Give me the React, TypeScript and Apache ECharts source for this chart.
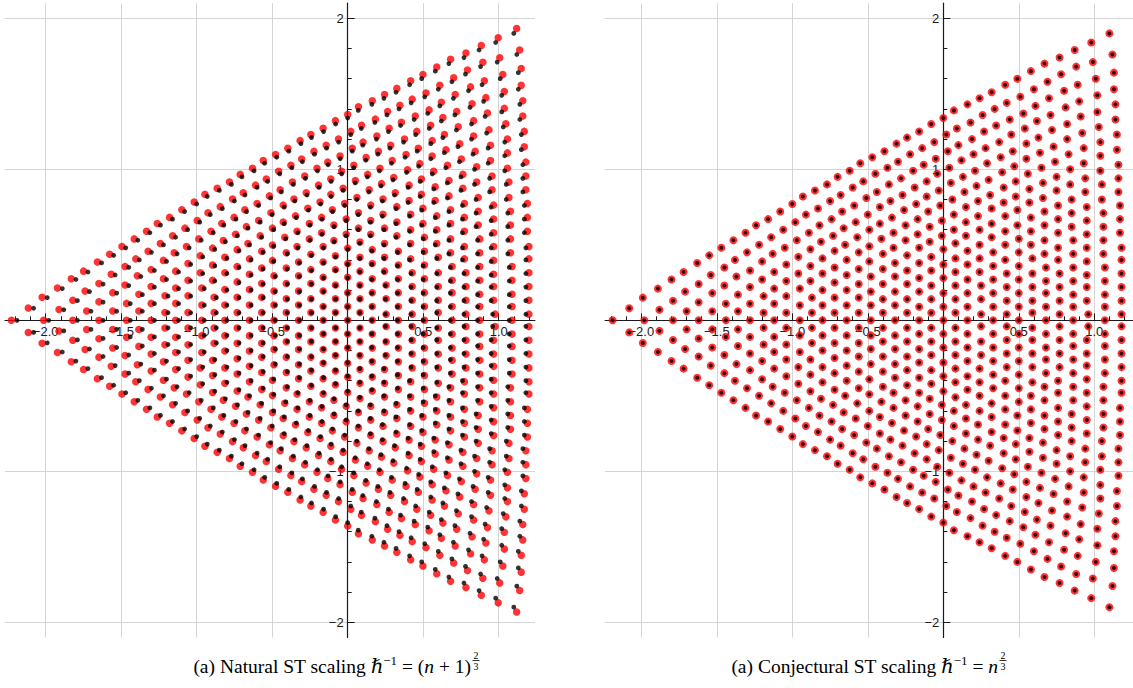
import React, { useEffect, useRef } from "react";
import * as echarts from "echarts";

// Points (upper half, y >= 0), one string per lattice column, "x,y" pairs.
const upperRoots: string[] = [
  "-2.19,0",
  "-2.08,0.08",
  "-1.99,0.15 -1.98,0",
  "-1.89,0.21 -1.88,0.07",
  "-1.80,0.27 -1.79,0.13 -1.79,0",
  "-1.72,0.32 -1.71,0.19 -1.70,0.06",
  "-1.63,0.38 -1.62,0.24 -1.62,0.12 -1.62,0",
  "-1.55,0.43 -1.54,0.30 -1.53,0.18 -1.53,0.06",
  "-1.47,0.48 -1.45,0.35 -1.45,0.23 -1.44,0.11 -1.44,0",
  "-1.39,0.53 -1.38,0.40 -1.37,0.29 -1.36,0.17 -1.36,0.06",
  "-1.31,0.58 -1.30,0.45 -1.28,0.33 -1.28,0.22 -1.28,0.11 -1.28,0",
  "-1.24,0.63 -1.22,0.50 -1.20,0.39 -1.20,0.27 -1.19,0.16 -1.19,0.05",
  "-1.16,0.67 -1.14,0.55 -1.13,0.44 -1.12,0.32 -1.12,0.21 -1.12,0.11 -1.12,0",
  "-1.08,0.72 -1.06,0.60 -1.05,0.48 -1.04,0.37 -1.04,0.26 -1.04,0.16 -1.04,0.05",
  "-1.00,0.77 -0.98,0.65 -0.97,0.53 -0.96,0.42 -0.96,0.31 -0.95,0.21 -0.95,0.10 -0.95,0",
  "-0.93,0.82 -0.91,0.70 -0.89,0.58 -0.88,0.47 -0.88,0.36 -0.88,0.26 -0.87,0.15 -0.87,0.05",
  "-0.85,0.86 -0.83,0.74 -0.82,0.63 -0.81,0.52 -0.80,0.41 -0.80,0.31 -0.80,0.20 -0.80,0.10 -0.80,0",
  "-0.77,0.90 -0.75,0.79 -0.74,0.67 -0.73,0.56 -0.72,0.46 -0.72,0.35 -0.72,0.25 -0.72,0.15 -0.72,0.05",
  "-0.70,0.95 -0.68,0.83 -0.67,0.72 -0.66,0.61 -0.65,0.50 -0.64,0.40 -0.64,0.30 -0.64,0.20 -0.64,0.10 -0.64,0",
  "-0.62,0.99 -0.60,0.88 -0.59,0.76 -0.58,0.65 -0.57,0.55 -0.56,0.45 -0.56,0.34 -0.56,0.24 -0.56,0.15 -0.56,0.05",
  "-0.55,1.04 -0.53,0.92 -0.51,0.81 -0.50,0.70 -0.49,0.60 -0.49,0.49 -0.49,0.39 -0.48,0.29 -0.48,0.19 -0.48,0.10 -0.48,0",
  "-0.47,1.08 -0.45,0.97 -0.44,0.85 -0.42,0.75 -0.42,0.64 -0.41,0.54 -0.40,0.44 -0.40,0.34 -0.40,0.24 -0.40,0.14 -0.40,0.05",
  "-0.39,1.12 -0.37,1.01 -0.36,0.90 -0.35,0.79 -0.34,0.68 -0.33,0.58 -0.33,0.48 -0.32,0.38 -0.32,0.29 -0.32,0.19 -0.32,0.10 -0.32,0",
  "-0.31,1.17 -0.30,1.05 -0.28,0.94 -0.27,0.83 -0.26,0.73 -0.25,0.63 -0.25,0.53 -0.24,0.43 -0.24,0.33 -0.24,0.24 -0.24,0.14 -0.24,0.05",
  "-0.24,1.21 -0.22,1.10 -0.20,0.99 -0.19,0.88 -0.18,0.77 -0.17,0.67 -0.17,0.57 -0.16,0.48 -0.16,0.38 -0.16,0.28 -0.16,0.19 -0.16,0.09 -0.16,0",
  "-0.16,1.25 -0.14,1.14 -0.13,1.03 -0.11,0.92 -0.11,0.82 -0.10,0.72 -0.09,0.62 -0.09,0.52 -0.08,0.42 -0.08,0.33 -0.08,0.23 -0.08,0.14 -0.08,0.05",
  "-0.08,1.30 -0.06,1.18 -0.05,1.07 -0.04,0.97 -0.03,0.86 -0.02,0.76 -0.01,0.66 -0.01,0.56 0,0.47 0,0.37 0,0.28 0,0.18 0,0.09 0,0",
  "0,1.34 0.02,1.23 0.03,1.12 0.04,1.01 0.05,0.91 0.06,0.80 0.07,0.70 0.07,0.60 0.08,0.51 0.08,0.41 0.08,0.32 0.08,0.23 0.08,0.14 0.08,0.05",
  "0.07,1.39 0.09,1.27 0.10,1.16 0.12,1.06 0.13,0.95 0.14,0.85 0.15,0.75 0.15,0.65 0.15,0.56 0.16,0.46 0.16,0.37 0.16,0.27 0.16,0.18 0.16,0.09 0.16,0",
  "0.16,1.43 0.18,1.31 0.19,1.20 0.20,1.10 0.21,0.99 0.22,0.89 0.23,0.79 0.23,0.69 0.24,0.60 0.24,0.50 0.24,0.41 0.24,0.32 0.25,0.23 0.25,0.14 0.25,0.04",
  "0.24,1.47 0.26,1.36 0.27,1.25 0.28,1.14 0.29,1.04 0.30,0.93 0.31,0.83 0.32,0.74 0.32,0.64 0.32,0.55 0.33,0.45 0.33,0.36 0.33,0.27 0.33,0.18 0.33,0.09 0.33,0",
  "0.32,1.51 0.34,1.40 0.35,1.29 0.37,1.18 0.38,1.08 0.39,0.98 0.40,0.88 0.40,0.78 0.41,0.69 0.41,0.59 0.41,0.50 0.41,0.40 0.42,0.31 0.42,0.22 0.42,0.13 0.42,0.04",
  "0.41,1.56 0.42,1.44 0.44,1.33 0.45,1.23 0.46,1.12 0.47,1.02 0.48,0.92 0.48,0.82 0.49,0.73 0.49,0.63 0.50,0.54 0.50,0.45 0.50,0.36 0.50,0.27 0.50,0.18 0.50,0.09 0.50,0",
  "0.49,1.60 0.51,1.48 0.53,1.37 0.54,1.27 0.55,1.17 0.55,1.07 0.56,0.97 0.57,0.87 0.57,0.78 0.58,0.68 0.58,0.59 0.58,0.50 0.59,0.41 0.59,0.31 0.59,0.22 0.59,0.13 0.59,0.05",
  "0.58,1.65 0.60,1.53 0.61,1.42 0.62,1.32 0.63,1.21 0.64,1.11 0.65,1.01 0.66,0.91 0.66,0.81 0.67,0.72 0.67,0.63 0.67,0.53 0.67,0.44 0.68,0.35 0.68,0.26 0.68,0.18 0.68,0.09 0.68,0",
  "0.67,1.70 0.69,1.58 0.70,1.47 0.71,1.36 0.72,1.26 0.73,1.15 0.74,1.05 0.75,0.95 0.75,0.86 0.76,0.76 0.76,0.67 0.76,0.58 0.76,0.48 0.76,0.40 0.77,0.31 0.77,0.22 0.77,0.13 0.77,0.04",
  "0.77,1.74 0.78,1.63 0.80,1.52 0.81,1.41 0.82,1.30 0.82,1.20 0.83,1.10 0.84,1.00 0.84,0.90 0.85,0.80 0.85,0.71 0.85,0.62 0.86,0.53 0.86,0.44 0.86,0.35 0.86,0.26 0.86,0.17 0.86,0.09 0.86,0",
  "0.87,1.79 0.88,1.68 0.89,1.56 0.90,1.45 0.91,1.35 0.92,1.24 0.93,1.14 0.93,1.04 0.94,0.94 0.94,0.85 0.95,0.75 0.95,0.66 0.95,0.57 0.95,0.48 0.95,0.39 0.95,0.30 0.95,0.22 0.95,0.13 0.96,0.04",
  "0.98,1.84 0.99,1.71 1.01,1.60 1.02,1.49 1.02,1.38 1.03,1.28 1.04,1.18 1.04,1.09 1.04,0.99 1.05,0.90 1.05,0.80 1.06,0.71 1.06,0.62 1.06,0.53 1.06,0.44 1.07,0.35 1.07,0.26 1.07,0.17 1.07,0.09 1.07,0",
  "1.10,1.90 1.12,1.76 1.13,1.64 1.13,1.53 1.14,1.43 1.14,1.33 1.15,1.23 1.15,1.13 1.16,1.03 1.16,0.94 1.16,0.85 1.17,0.76 1.17,0.67 1.17,0.58 1.18,0.48 1.18,0.40 1.18,0.31 1.18,0.22 1.18,0.13 1.18,0.04",
];

// Lower half (y < 0), same column order.
const lowerRoots: string[] = [
  "-2.08,-0.08",
  "-1.99,-0.15",
  "-1.89,-0.21 -1.88,-0.07",
  "-1.80,-0.27 -1.79,-0.13",
  "-1.72,-0.32 -1.71,-0.19 -1.70,-0.06",
  "-1.63,-0.38 -1.62,-0.24 -1.62,-0.12",
  "-1.55,-0.43 -1.54,-0.30 -1.53,-0.18 -1.53,-0.06",
  "-1.47,-0.48 -1.45,-0.35 -1.45,-0.23 -1.44,-0.11",
  "-1.39,-0.53 -1.38,-0.40 -1.37,-0.29 -1.36,-0.17 -1.36,-0.06",
  "-1.31,-0.58 -1.30,-0.45 -1.28,-0.33 -1.28,-0.22 -1.28,-0.11",
  "-1.24,-0.63 -1.22,-0.50 -1.20,-0.39 -1.20,-0.27 -1.19,-0.16 -1.19,-0.05",
  "-1.16,-0.67 -1.14,-0.55 -1.13,-0.44 -1.12,-0.32 -1.12,-0.21 -1.12,-0.11",
  "-1.08,-0.72 -1.06,-0.60 -1.05,-0.48 -1.04,-0.37 -1.04,-0.26 -1.04,-0.16 -1.04,-0.05",
  "-1.00,-0.77 -0.98,-0.65 -0.97,-0.53 -0.96,-0.42 -0.96,-0.31 -0.95,-0.21 -0.95,-0.10",
  "-0.93,-0.82 -0.91,-0.70 -0.89,-0.58 -0.88,-0.47 -0.88,-0.36 -0.88,-0.26 -0.87,-0.15 -0.87,-0.05",
  "-0.85,-0.86 -0.83,-0.74 -0.82,-0.63 -0.81,-0.52 -0.80,-0.41 -0.80,-0.31 -0.80,-0.20 -0.80,-0.10",
  "-0.77,-0.90 -0.75,-0.79 -0.74,-0.67 -0.73,-0.56 -0.72,-0.46 -0.72,-0.35 -0.72,-0.25 -0.72,-0.15 -0.72,-0.05",
  "-0.70,-0.95 -0.68,-0.83 -0.67,-0.72 -0.66,-0.61 -0.65,-0.50 -0.64,-0.40 -0.64,-0.30 -0.64,-0.20 -0.64,-0.10",
  "-0.62,-0.99 -0.60,-0.88 -0.59,-0.76 -0.58,-0.65 -0.57,-0.55 -0.56,-0.45 -0.56,-0.34 -0.56,-0.24 -0.56,-0.15 -0.56,-0.05",
  "-0.55,-1.04 -0.53,-0.92 -0.51,-0.81 -0.50,-0.70 -0.49,-0.60 -0.49,-0.49 -0.49,-0.39 -0.48,-0.29 -0.48,-0.19 -0.48,-0.10",
  "-0.47,-1.08 -0.45,-0.97 -0.44,-0.85 -0.42,-0.75 -0.42,-0.64 -0.41,-0.54 -0.40,-0.44 -0.40,-0.34 -0.40,-0.24 -0.40,-0.14 -0.40,-0.05",
  "-0.39,-1.12 -0.37,-1.01 -0.36,-0.90 -0.35,-0.79 -0.34,-0.68 -0.33,-0.58 -0.33,-0.48 -0.32,-0.38 -0.32,-0.29 -0.32,-0.19 -0.32,-0.10",
  "-0.31,-1.17 -0.30,-1.05 -0.28,-0.94 -0.27,-0.83 -0.26,-0.73 -0.25,-0.63 -0.25,-0.53 -0.24,-0.43 -0.24,-0.33 -0.24,-0.24 -0.24,-0.14 -0.24,-0.05",
  "-0.24,-1.21 -0.22,-1.10 -0.20,-0.99 -0.19,-0.88 -0.18,-0.77 -0.17,-0.67 -0.17,-0.57 -0.16,-0.48 -0.16,-0.38 -0.16,-0.28 -0.16,-0.19 -0.16,-0.09",
  "-0.16,-1.25 -0.14,-1.14 -0.13,-1.03 -0.11,-0.92 -0.11,-0.82 -0.10,-0.72 -0.09,-0.62 -0.09,-0.52 -0.08,-0.42 -0.08,-0.33 -0.08,-0.23 -0.08,-0.14 -0.08,-0.05",
  "-0.08,-1.30 -0.06,-1.18 -0.05,-1.07 -0.04,-0.97 -0.03,-0.86 -0.02,-0.76 -0.01,-0.66 -0.01,-0.56 0,-0.47 0,-0.37 0,-0.28 0,-0.18 0,-0.09",
  "0,-1.34 0.02,-1.23 0.03,-1.12 0.04,-1.01 0.05,-0.91 0.06,-0.80 0.07,-0.70 0.07,-0.60 0.08,-0.51 0.08,-0.41 0.08,-0.32 0.08,-0.23 0.08,-0.14 0.08,-0.05",
  "0.07,-1.39 0.09,-1.27 0.10,-1.16 0.12,-1.06 0.13,-0.95 0.14,-0.85 0.15,-0.75 0.15,-0.65 0.15,-0.56 0.16,-0.46 0.16,-0.37 0.16,-0.27 0.16,-0.18 0.16,-0.09",
  "0.16,-1.43 0.18,-1.31 0.19,-1.20 0.20,-1.10 0.21,-0.99 0.22,-0.89 0.23,-0.79 0.23,-0.69 0.24,-0.60 0.24,-0.50 0.24,-0.41 0.24,-0.32 0.25,-0.23 0.25,-0.14 0.25,-0.04",
  "0.24,-1.47 0.26,-1.36 0.27,-1.25 0.28,-1.14 0.29,-1.04 0.30,-0.93 0.31,-0.83 0.32,-0.74 0.32,-0.64 0.32,-0.55 0.33,-0.45 0.33,-0.36 0.33,-0.27 0.33,-0.18 0.33,-0.09",
  "0.32,-1.51 0.34,-1.40 0.35,-1.29 0.37,-1.18 0.38,-1.08 0.39,-0.98 0.40,-0.88 0.40,-0.78 0.41,-0.69 0.41,-0.59 0.41,-0.50 0.41,-0.40 0.42,-0.31 0.42,-0.22 0.42,-0.13 0.42,-0.04",
  "0.41,-1.56 0.42,-1.44 0.44,-1.33 0.45,-1.23 0.46,-1.12 0.47,-1.02 0.48,-0.92 0.48,-0.82 0.49,-0.73 0.49,-0.63 0.50,-0.54 0.50,-0.45 0.50,-0.36 0.50,-0.27 0.50,-0.18 0.50,-0.09",
  "0.49,-1.60 0.51,-1.48 0.53,-1.37 0.54,-1.27 0.55,-1.17 0.55,-1.07 0.56,-0.97 0.57,-0.87 0.57,-0.78 0.58,-0.68 0.58,-0.59 0.58,-0.50 0.59,-0.41 0.59,-0.31 0.59,-0.22 0.59,-0.13 0.59,-0.05",
  "0.58,-1.65 0.60,-1.53 0.61,-1.42 0.62,-1.32 0.63,-1.21 0.64,-1.11 0.65,-1.01 0.66,-0.91 0.66,-0.81 0.67,-0.72 0.67,-0.63 0.67,-0.53 0.67,-0.44 0.68,-0.35 0.68,-0.26 0.68,-0.18 0.68,-0.09",
  "0.67,-1.70 0.69,-1.58 0.70,-1.47 0.71,-1.36 0.72,-1.26 0.73,-1.15 0.74,-1.05 0.75,-0.95 0.75,-0.86 0.76,-0.76 0.76,-0.67 0.76,-0.58 0.76,-0.48 0.76,-0.40 0.77,-0.31 0.77,-0.22 0.77,-0.13 0.77,-0.04",
  "0.77,-1.74 0.78,-1.63 0.80,-1.52 0.81,-1.41 0.82,-1.30 0.82,-1.20 0.83,-1.10 0.84,-1.00 0.84,-0.90 0.85,-0.80 0.85,-0.71 0.85,-0.62 0.86,-0.53 0.86,-0.44 0.86,-0.35 0.86,-0.26 0.86,-0.17 0.86,-0.09",
  "0.87,-1.79 0.88,-1.68 0.89,-1.56 0.90,-1.45 0.91,-1.35 0.92,-1.24 0.93,-1.14 0.93,-1.04 0.94,-0.94 0.94,-0.85 0.95,-0.75 0.95,-0.66 0.95,-0.57 0.95,-0.48 0.95,-0.39 0.95,-0.30 0.95,-0.22 0.95,-0.13 0.96,-0.04",
  "0.98,-1.84 0.99,-1.71 1.01,-1.60 1.02,-1.49 1.02,-1.38 1.03,-1.28 1.04,-1.18 1.04,-1.09 1.04,-0.99 1.05,-0.90 1.05,-0.80 1.06,-0.71 1.06,-0.62 1.06,-0.53 1.06,-0.44 1.07,-0.35 1.07,-0.26 1.07,-0.17 1.07,-0.09",
  "1.10,-1.90 1.12,-1.76 1.13,-1.64 1.13,-1.53 1.14,-1.43 1.14,-1.33 1.15,-1.23 1.15,-1.13 1.16,-1.03 1.16,-0.94 1.16,-0.85 1.17,-0.76 1.17,-0.67 1.17,-0.58 1.18,-0.48 1.18,-0.40 1.18,-0.31 1.18,-0.22 1.18,-0.13 1.18,-0.04",
];

// Red points of the left panel sit farther out than the black ones by this ratio.
const naturalScale = 1.017;

// Axis ticks and labels
const xMajorTicks = [-2, -1.5, -1, -0.5, 0, 0.5, 1];
const xLabelValues = [-2, -1.5, -1, -0.5, 0.5, 1];
const xMinorTicks = [-2.2, -2.1, -1.9, -1.8, -1.7, -1.6, -1.4, -1.3, -1.2, -1.1, -0.9, -0.8, -0.7, -0.6, -0.4, -0.3, -0.2, -0.1, 0.1, 0.2, 0.3, 0.4, 0.6, 0.7, 0.8, 0.9, 1.1, 1.2];
const yMajorTicks = [-2, -1, 0, 1, 2];
const yLabelValues = [-2, -1, 1, 2];
const yMinorTicks = [-1.8, -1.6, -1.4, -1.2, -0.8, -0.6, -0.4, -0.2, 0.2, 0.4, 0.6, 0.8, 1.2, 1.4, 1.6, 1.8];

const leftRange = { xMin: -2.27, xMax: 1.24 };
const rightRange = { xMin: -2.24, xMax: 1.26 };
const yRange = { min: -2.1, max: 2.1 };

const PX_PER_UNIT = 151;
const LEFT_ORIGIN_X = 347.7;
const RIGHT_ORIGIN_X = 943.3;
const ORIGIN_Y = 320.3;

function parsePoints(list: string[]): number[][] {
  const out: number[][] = [];
  list.forEach((s) =>
    s
      .trim()
      .split(/\s+/)
      .forEach((p) => {
        const [x, y] = p.split(",").map(Number);
        out.push([x, y]);
      })
  );
  return out;
}

const AXIS_COLOR = "#1a1a1a";
const GRID_COLOR = "#d4d4d4";
const LABEL_FONT = "'Liberation Sans', Arial, sans-serif";

function fmtX(v: number) {
  const s = Math.abs(v).toFixed(1);
  return v < 0 ? "\u2212" + s : s;
}
function fmtY(v: number) {
  const s = String(Math.abs(Math.round(v)));
  return v < 0 ? "\u2212" + s : s;
}

// x axes sit on y = 0: offset them up from the grid's bottom edge.
function makeXAxes(gridIndex: number, min: number, max: number) {
  const offset = -(0 - yRange.min) * PX_PER_UNIT;
  return [
    {
      type: "value",
      gridIndex,
      min,
      max,
      position: "bottom",
      offset,
      axisLine: { show: true, onZero: false, lineStyle: { color: AXIS_COLOR, width: 1.2 } },
      axisTick: { show: true, inside: true, length: 7, customValues: xMajorTicks, lineStyle: { color: AXIS_COLOR, width: 1 } },
      axisLabel: {
        show: true,
        customValues: xLabelValues,
        formatter: fmtX,
        color: AXIS_COLOR,
        fontSize: 13,
        fontFamily: LABEL_FONT,
        margin: 5,
      },
      splitLine: { show: true, lineStyle: { color: GRID_COLOR, width: 1 } },
    },
    {
      type: "value",
      gridIndex,
      min,
      max,
      position: "bottom",
      offset,
      axisLine: { show: false, onZero: false },
      axisTick: { show: true, inside: true, length: 4, customValues: xMinorTicks, lineStyle: { color: AXIS_COLOR, width: 1 } },
      axisLabel: { show: false },
      splitLine: { show: false },
    },
  ];
}

// y axes sit on x = 0: offset them right from the grid's left edge.
function makeYAxes(gridIndex: number, xMin: number) {
  const offset = -(0 - xMin) * PX_PER_UNIT;
  return [
    {
      type: "value",
      gridIndex,
      min: yRange.min,
      max: yRange.max,
      position: "left",
      offset,
      axisLine: { show: true, onZero: false, lineStyle: { color: AXIS_COLOR, width: 1.2 } },
      axisTick: { show: true, inside: true, length: 7, customValues: yMajorTicks, lineStyle: { color: AXIS_COLOR, width: 1 } },
      axisLabel: {
        show: true,
        customValues: yLabelValues,
        formatter: fmtY,
        color: AXIS_COLOR,
        fontSize: 13,
        fontFamily: LABEL_FONT,
        margin: 4,
      },
      splitLine: { show: true, lineStyle: { color: GRID_COLOR, width: 1 } },
    },
    {
      type: "value",
      gridIndex,
      min: yRange.min,
      max: yRange.max,
      position: "left",
      offset,
      axisLine: { show: false, onZero: false },
      axisTick: { show: true, inside: true, length: 4, customValues: yMinorTicks, lineStyle: { color: AXIS_COLOR, width: 1 } },
      axisLabel: { show: false },
      splitLine: { show: false },
    },
  ];
}

const SERIF = "'Liberation Serif', 'DejaVu Serif', serif";

function caption(rightX: number, y: number, main: string, fracX: number) {
  return [
    {
      type: "text",
      x: rightX,
      y,
      style: {
        text: main,
        align: "right",
        verticalAlign: "middle",
        rich: {
          t: { fontFamily: SERIF, fontSize: 19.5, color: "#000", verticalAlign: "bottom", lineHeight: 24 },
          i: { fontFamily: SERIF, fontStyle: "italic", fontSize: 19.5, color: "#000", verticalAlign: "bottom", lineHeight: 24 },
          s: { fontFamily: SERIF, fontSize: 13, color: "#000", verticalAlign: "top", lineHeight: 24, padding: [2, 0, 0, 0] },
        },
      },
    },
    {
      type: "text",
      x: fracX,
      y: y - 9,
      style: { text: "2", fontFamily: SERIF, fontSize: 10, fill: "#000", align: "center", verticalAlign: "middle" },
    },
    {
      type: "line",
      shape: { x1: fracX - 3.5, y1: y - 3.5, x2: fracX + 3.5, y2: y - 3.5 },
      style: { stroke: "#000", lineWidth: 0.8 },
    },
    {
      type: "text",
      x: fracX,
      y: y + 2,
      style: { text: "3", fontFamily: SERIF, fontSize: 10, fill: "#000", align: "center", verticalAlign: "middle" },
    },
  ];
}

export default function App() {
  const ref = useRef<HTMLDivElement>(null);

  useEffect(() => {
    if (!ref.current) return;
    const chart = echarts.init(ref.current, null, { renderer: "svg" });

    const exact = parsePoints(upperRoots).concat(parsePoints(lowerRoots));
    const naturalRed = exact.map(([x, y]) => [x * naturalScale, y * naturalScale]);

    const gridTop = ORIGIN_Y - yRange.max * PX_PER_UNIT;
    const gridH = (yRange.max - yRange.min) * PX_PER_UNIT;

    const option: any = {
      animation: false,
      backgroundColor: "#ffffff",
      grid: [
        {
          left: LEFT_ORIGIN_X + leftRange.xMin * PX_PER_UNIT,
          top: gridTop,
          width: (leftRange.xMax - leftRange.xMin) * PX_PER_UNIT,
          height: gridH,
          containLabel: false,
          outerBoundsMode: "none",
        },
        {
          left: RIGHT_ORIGIN_X + rightRange.xMin * PX_PER_UNIT,
          top: gridTop,
          width: (rightRange.xMax - rightRange.xMin) * PX_PER_UNIT,
          height: gridH,
          containLabel: false,
          outerBoundsMode: "none",
        },
      ],
      xAxis: [...makeXAxes(0, leftRange.xMin, leftRange.xMax), ...makeXAxes(1, rightRange.xMin, rightRange.xMax)],
      yAxis: [...makeYAxes(0, leftRange.xMin), ...makeYAxes(1, rightRange.xMin)],
      series: [
        {
          type: "scatter",
          name: "natural-scaling",
          xAxisIndex: 0,
          yAxisIndex: 0,
          data: naturalRed,
          symbol: "circle",
          symbolSize: 7.5,
          itemStyle: { color: "#ff0000" },
          silent: true,
          z: 3,
        },
        {
          type: "scatter",
          name: "exact-left",
          xAxisIndex: 0,
          yAxisIndex: 0,
          data: exact,
          symbol: "circle",
          symbolSize: 4.8,
          itemStyle: { color: "#000000" },
          silent: true,
          z: 4,
        },
        {
          type: "scatter",
          name: "conjectural-scaling",
          xAxisIndex: 2,
          yAxisIndex: 2,
          data: exact,
          symbol: "circle",
          symbolSize: 8,
          itemStyle: { color: "#ff0000" },
          silent: true,
          z: 3,
        },
        {
          type: "scatter",
          name: "exact-right",
          xAxisIndex: 2,
          yAxisIndex: 2,
          data: exact,
          symbol: "circle",
          symbolSize: 4,
          itemStyle: { color: "#000000" },
          silent: true,
          z: 4,
        },
      ],
      graphic: [
        ...caption(471, 664, "{t|(a) Natural ST scaling }{i|\u210F}{s|\u22121}{t| = (}{i|n}{t| + 1)}", 476),
        ...caption(998, 664, "{t|(a) Conjectural ST scaling }{i|\u210F}{s|\u22121}{t| = }{i|n}", 1003),
      ],
    };

    chart.setOption(option);
    return () => chart.dispose();
  }, []);

  return (
    <div
      ref={ref}
      style={{ position: "absolute", left: 0, top: 0, width: 1133, height: 688, background: "#fff" }}
    />
  );
}
